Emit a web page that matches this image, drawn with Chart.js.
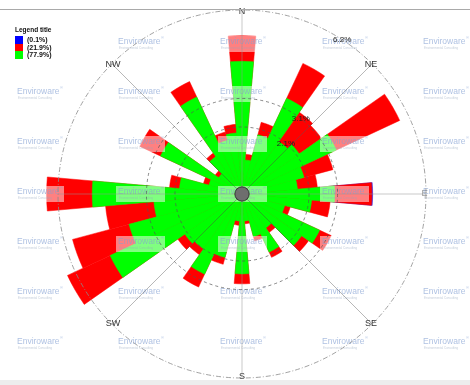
<!DOCTYPE html>
<html>
<head>
<meta charset="utf-8">
<script src="https://cdn.jsdelivr.net/npm/chart.js@4.4.0/dist/chart.umd.min.js"></script>
<style>
  html, body { margin: 0; padding: 0; background: #fff; overflow: hidden; }
  #wrap { position: relative; width: 470px; height: 385px; }
  #rose { position: absolute; left: 0; top: 0; }
  #topLine { position: absolute; left: 0; top: 9px; width: 470px; height: 1px; background: #a9a9a9; }
  #bottomBand { position: absolute; left: 0; top: 380px; width: 470px; height: 5px; background: #ededed; }
  #legend { position: absolute; left: 15px; top: 26px; font-family: "Liberation Sans", Arial, sans-serif; color: #111; }
  #legend .title { font-size: 6.5px; font-weight: bold; height: 10px; line-height: 8px; }
  #legend .row { height: 7.5px; line-height: 7.5px; font-size: 7px; font-weight: bold; white-space: nowrap; }
  #legend .sw { display: inline-block; width: 8px; height: 7.5px; vertical-align: top; margin-right: 4px; }
</style>
</head>
<body>
<div id="wrap">
  <canvas id="rose" width="470" height="385"></canvas>
  <div id="topLine"></div>
  <div id="bottomBand"></div>
  <div id="legend"></div>
</div>
<script>
// sector centres, degrees clockwise from north
const sectors = ['0', '10', '20', '30', '40', '50', '60', '70', '80', '90', '100', '110',
                 '120', '130', '140', '150', '160', '170', '180', '190', '200', '210', '220', '230',
                 '240', '250', '260', '270', '280', '290', '300', '310', '320', '330', '340', '350'];

// frequency (%) per class and sector
const greenVals = [4.4, 0.95, 1.9, 3.45, 2.0, 2.2, 3.4, 2.0, 1.7, 3.0, 2.2, 1.3,
                   2.75, 2.3, 1.2, 2.0, 1.3, 0.7, 2.55, 0.7, 2.05, 2.85, 2.1, 2.2,
                   4.85, 3.85, 2.85, 5.0, 1.95, 0.95, 2.9, 0.75, 1.35, 3.5, 1.7, 1.9];
const redVals = [0.9, 0.2, 0.45, 1.35, 1.25, 0.95, 2.45, 1.05, 0.7, 1.3, 0.65, 0.2,
                 0.45, 0.3, 0.2, 0.2, 0.15, 0.1, 0.35, 0.15, 0.25, 0.5, 0.25, 0.3,
                 1.65, 2.05, 1.7, 1.6, 0.35, 0.2, 0.8, 0.15, 0.15, 0.6, 0.3, 0.3];
const blueVals = [0, 0, 0, 0, 0, 0, 0, 0, 0, 0.03, 0, 0,
                  0, 0, 0, 0, 0, 0, 0, 0, 0, 0, 0, 0,
                  0, 0, 0, 0, 0, 0, 0, 0, 0, 0, 0, 0];

const legendColors = ['#0000ff', '#ff0000', '#00ff00'];
const legendLabels = ['(0.1%)', '(21.9%)', '(77.9%)'];

const ringValues = [2.1, 3.1, 6.2];
const ringLabels = ['2.1%', '3.1%', '6.2%'];
const compassLabels = ['N', 'NE', 'E', 'SE', 'S', 'SW', 'W', 'NW'];

const scaleMin = -0.25;   // leaves room for the calm circle
const scaleMax = 6.2;

// legend
const legendEl = document.getElementById('legend');
legendEl.innerHTML = '<div class="title">Legend title</div>';
legendLabels.forEach((txt, i) => {
    legendEl.innerHTML += `<div class="row"><span class="sw" style="background:${legendColors[i]}"></span>${txt}</div>`;
});

// stacked totals, outermost drawn underneath
const greenTop = greenVals.slice();
const redTop = greenVals.map((g, i) => g + redVals[i]);
const blueTop = redTop.map((t, i) => blueVals[i] > 0 ? t + blueVals[i] : 0);

const FONT = '"Liberation Sans", Arial, sans-serif';

const roseDecor = {
    id: 'roseDecor',
    beforeDatasetsDraw(chart) {
        const r = chart.scales.r;
        const ctx = chart.ctx;
        const outer = r.getDistanceFromCenterForValue(scaleMax);
        ctx.save();
        ctx.font = '9px ' + FONT;
        ctx.fillStyle = '#333';
        ctx.textAlign = 'center';
        ctx.textBaseline = 'middle';
        compassLabels.forEach((lab, i) => {
            const a = (i * 45 - 90) * Math.PI / 180;
            ctx.fillText(lab, r.xCenter + (outer - 1.5) * Math.cos(a), r.yCenter + (outer - 1.5) * Math.sin(a));
        });
        ctx.restore();
    },
    afterDatasetsDraw(chart) {
        const r = chart.scales.r;
        const ctx = chart.ctx;
        const cx = r.xCenter, cy = r.yCenter;
        const outer = r.getDistanceFromCenterForValue(scaleMax);
        ctx.save();

        // watermark
        const cols = [17, 118, 220, 322, 423];
        const rows = [42, 92, 142, 192, 242, 292, 342];
        rows.forEach((y, ri) => {
            cols.forEach((x, ci) => {
                if (ri === 0 && ci === 0) return;
                ctx.fillStyle = 'rgba(255,255,255,0.5)';
                ctx.fillRect(x - 2, y - 6, 49, 16);
                ctx.textAlign = 'left';
                ctx.textBaseline = 'middle';
                ctx.fillStyle = 'rgba(130,160,210,0.65)';
                ctx.font = '8.5px ' + FONT;
                ctx.fillText('Enviroware', x, y);
                ctx.font = '4px ' + FONT;
                ctx.fillText('®', x + 43, y - 4);
                ctx.fillStyle = 'rgba(150,165,190,0.55)';
                ctx.font = '3px ' + FONT;
                ctx.fillText('Environmental Consulting', x + 1, y + 6);
            });
        });

        // spokes
        for (let i = 0; i < 8; i++) {
            const a = (i * 45 - 90) * Math.PI / 180;
            ctx.beginPath();
            ctx.moveTo(cx, cy);
            ctx.lineTo(cx + outer * Math.cos(a), cy + outer * Math.sin(a));
            ctx.strokeStyle = i % 2 ? 'rgba(70,70,70,0.65)' : 'rgba(150,150,150,0.5)';
            ctx.lineWidth = i % 2 ? 0.6 : 1;
            ctx.stroke();
        }

        // rings
        ringValues.forEach((v, i) => {
            const rad = r.getDistanceFromCenterForValue(v);
            ctx.beginPath();
            ctx.arc(cx, cy, rad, 0, Math.PI * 2);
            const last = i === ringValues.length - 1;
            ctx.setLineDash(last ? [5, 2, 1, 2] : [3, 3]);
            ctx.strokeStyle = last ? '#8a8a8a' : '#555';
            ctx.lineWidth = last ? 0.8 : 0.7;
            ctx.stroke();
        });
        ctx.setLineDash([]);

        // calm circle
        const calm = r.getDistanceFromCenterForValue(0);
        ctx.beginPath();
        ctx.arc(cx, cy, calm, 0, Math.PI * 2);
        ctx.fillStyle = '#6e6e6e';
        ctx.fill();
        ctx.strokeStyle = '#333';
        ctx.lineWidth = 1;
        ctx.stroke();

        // ring labels
        const labelAngles = [41, 38, 33];
        ctx.font = '8px ' + FONT;
        ctx.fillStyle = '#222';
        ctx.textAlign = 'center';
        ctx.textBaseline = 'middle';
        ringValues.forEach((v, i) => {
            const rad = r.getDistanceFromCenterForValue(v);
            const a = (labelAngles[i] - 90) * Math.PI / 180;
            ctx.fillText(ringLabels[i], cx + rad * Math.cos(a), cy + rad * Math.sin(a));
        });
        ctx.restore();
    }
};

new Chart(document.getElementById('rose'), {
    type: 'polarArea',
    data: {
        labels: sectors,
        datasets: [
            { label: 'green', data: greenTop, backgroundColor: '#00ff00', borderColor: '#00ff00', borderWidth: 0.5, clip: false },
            { label: 'red', data: redTop, backgroundColor: '#ff0000', borderColor: '#ff0000', borderWidth: 0.5, clip: false },
            { label: 'blue', data: blueTop, backgroundColor: '#3a1fd0', borderColor: '#3a1fd0', borderWidth: 0.5, clip: false }
        ]
    },
    options: {
        responsive: false,
        animation: false,
        startAngle: -5,
        layout: { padding: { left: 58, right: 44, top: 10, bottom: 7 } },
        plugins: {
            legend: { display: false },
            tooltip: { enabled: false }
        },
        scales: {
            r: {
                startAngle: -5,
                min: scaleMin,
                max: scaleMax,
                ticks: { display: false },
                grid: { display: false },
                angleLines: { display: false },
                pointLabels: { display: false }
            }
        }
    },
    plugins: [roseDecor]
});
</script>
</body>
</html>
